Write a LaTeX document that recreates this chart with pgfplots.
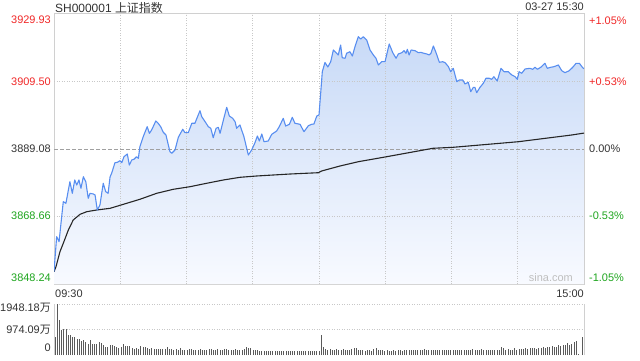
\documentclass[border=0pt]{standalone}
\usepackage{pgfplots}
\pgfplotsset{compat=1.18}
\usepackage{pgfplotstable}
\usepackage{fontspec}
\setmainfont{Liberation Sans}
\newfontfamily\cjk{Noto Sans CJK SC}
\definecolor{upred}{RGB}{240,40,40}
\definecolor{dngreen}{RGB}{30,165,30}
\definecolor{txt}{RGB}{51,51,51}
\definecolor{pline}{RGB}{88,142,240}
\definecolor{ftop}{RGB}{200,218,247}
\definecolor{fbot}{RGB}{248,250,255}
\definecolor{framec}{RGB}{208,208,208}
\definecolor{gridc}{RGB}{200,200,200}
\definecolor{zeroc}{RGB}{160,160,160}
\definecolor{volc}{RGB}{90,90,90}
\newcommand{\fs}{\fontsize{11}{13}\selectfont}

\pgfplotstableread{
t p
0 3851.96
1.2 3862.55
2.3 3861.04
3.0 3865.58
4.2 3873.14
5.4 3872.66
7.2 3879.19
8.3 3875.68
9.4 3879.71
10.3 3878.19
11.3 3879.71
12.2 3877.20
13.3 3880.70
14.4 3879.19
15.5 3874.17
16.3 3875.68
17.8 3875.47
18.6 3875.17
19.6 3870.63
20.8 3872.14
22.3 3878.71
23.4 3876.17
24.5 3875.68
25.4 3880.70
26.1 3881.73
27.6 3884.94
28.7 3885.06
29.9 3885.55
30.7 3884.94
31.7 3886.76
33.2 3887.57
34.1 3884.24
35.2 3885.76
36.2 3885.97
37.4 3886.76
38.2 3886.27
38.9 3889.78
40.4 3892.81
42.2 3895.83
43.2 3893.84
44.2 3894.83
46.1 3897.56
47.2 3896.86
48.3 3895.83
49.5 3894.14
50.7 3893.32
52.5 3888.27
53.3 3887.78
54.8 3888.78
56.3 3892.63
58.3 3895.05
59.3 3894.02
60.8 3894.02
62.4 3896.86
63.8 3896.86
66.1 3900.67
66.9 3898.86
68.4 3897.35
69.9 3895.83
71.0 3895.35
72.1 3892.50
73.4 3895.35
74.4 3895.65
75.2 3893.84
76.7 3897.86
78.2 3901.70
79.4 3899.07
80.9 3898.37
82.0 3897.35
82.7 3895.35
84.2 3896.35
86.0 3892.81
88.0 3887.27
89.5 3888.78
91.0 3890.99
92.1 3893.02
93.0 3891.51
94.1 3893.62
95.1 3891.29
97.0 3891.51
98.6 3893.53
100.8 3894.53
102.0 3895.83
103.8 3898.37
104.9 3896.04
106.6 3896.56
107.9 3898.68
109.1 3896.86
111.4 3896.56
113.2 3894.32
115.2 3896.14
116.7 3896.56
117.7 3896.65
119.0 3899.07
120.0 3899.37
121.5 3912.50
122.7 3915.26
124.0 3913.90
125.3 3915.50
126.5 3919.04
128.0 3918.04
128.7 3917.53
129.8 3920.55
130.5 3916.71
131.8 3916.53
132.5 3918.04
134.0 3918.52
135.1 3917.22
136.3 3920.04
137.8 3923.06
138.9 3922.37
140.1 3923.06
141.6 3922.06
143.1 3919.04
144.6 3917.53
145.8 3916.53
146.9 3914.50
148.4 3915.50
149.9 3915.50
151.8 3920.85
153.4 3918.22
154.9 3916.53
155.9 3917.83
157.5 3918.22
158.5 3918.83
159.4 3918.04
160.0 3919.25
160.8 3917.53
161.7 3919.04
163.5 3918.83
165.0 3918.22
166.1 3918.34
167.5 3918.04
168.8 3917.83
169.9 3917.53
170.7 3918.04
171.8 3920.25
173.0 3918.22
174.5 3915.32
176.0 3915.50
177.1 3915.20
178.6 3913.99
179.6 3912.47
180.8 3913.50
182.4 3909.45
183.5 3909.96
185.1 3909.96
186.1 3908.75
187.6 3909.27
188.7 3906.42
189.9 3907.75
190.6 3907.75
191.4 3906.12
192.9 3907.75
194.4 3908.96
195.6 3910.48
197.1 3910.48
198.2 3910.17
199.2 3910.96
200.7 3909.66
202.4 3913.50
203.8 3912.47
205.7 3912.47
207.3 3911.48
208.8 3910.96
209.8 3910.17
210.6 3912.47
211.8 3911.99
213.3 3913.29
215.5 3913.50
216.8 3913.20
217.8 3913.81
218.9 3913.20
220.4 3913.81
222.3 3915.01
223.4 3913.50
224.9 3913.81
226.4 3913.99
228.4 3914.50
229.9 3912.78
231.4 3912.17
233.3 3912.78
234.9 3913.81
236.4 3915.01
237.9 3915.01
239.4 3913.68
240 3913.40
}\price

\pgfplotstableread{
t a
0 3851.96
0.9 3853.47
2.7 3858.01
4.2 3860.55
6.5 3864.58
8.7 3867.60
11.8 3869.33
14.8 3870.11
19.3 3870.63
25.4 3871.14
31.4 3872.35
38.9 3873.87
46.5 3875.68
54.0 3876.89
61.6 3877.68
69.1 3878.71
76.7 3879.71
84.2 3880.52
91.8 3880.92
99.3 3881.22
106.9 3881.52
119.7 3881.91
121.2 3882.43
129.5 3883.94
137.8 3885.24
150.7 3886.76
171.6 3889.30
180.8 3889.60
210.3 3891.29
234.4 3893.32
240 3893.90
}\avg

\begin{document}
\begin{tikzpicture}[x=1bp,y=1bp]
\useasboundingbox (0,0) rectangle (640,360);

% main price panel
\begin{axis}[at={(54bp,76bp)}, anchor=south west, scale only axis,
  width=530bp, height=270bp,
  xmin=0, xmax=240, ymin=3848.24, ymax=3929.93,
  xtick=\empty, ytick=\empty,
  axis line style={framec, line width=1bp}]
\addplot[draw=none, top color=ftop, bottom color=fbot] table[x=t,y=p]{\price}
  -- (axis cs:240,3848.24) -- (axis cs:0,3848.24) -- cycle;
\pgfplotsinvokeforeach{30,60,90,120,150,180,210}{
  \draw[gridc, line width=0.8bp, dash pattern=on 1bp off 1.5bp] (axis cs:#1,3848.24) -- (axis cs:#1,3929.93);
}
\draw[gridc, line width=0.8bp, dash pattern=on 1bp off 1.5bp] (axis cs:0,3909.50) -- (axis cs:240,3909.50);
\draw[gridc, line width=0.8bp, dash pattern=on 1bp off 1.5bp] (axis cs:0,3868.66) -- (axis cs:240,3868.66);
\draw[zeroc, line width=0.8bp, dash pattern=on 4bp off 2bp] (axis cs:0,3889.08) -- (axis cs:240,3889.08);
\addplot[black!85, line width=1.1bp, mark=none] table[x=t,y=a]{\avg};
\addplot[pline, line width=1.1bp, line join=round, mark=none] table[x=t,y=p]{\price};
\end{axis}

% volume panel
\begin{axis}[at={(54bp,5bp)}, anchor=south west, scale only axis,
  width=530bp, height=51bp,
  xmin=-0.5, xmax=240.5, ymin=0, ymax=1948.18,
  xtick=\empty, ytick=\empty, clip=false,
  axis line style={draw=none}]
\draw[gridc, line width=0.8bp, dash pattern=on 1bp off 1.5bp] (axis cs:-0.5,1948.18) -- (axis cs:240.5,1948.18);
\draw[gridc, line width=0.8bp, dash pattern=on 1bp off 1.5bp] (axis cs:-0.5,974.09) -- (axis cs:240.5,974.09);
\draw[framec, line width=1bp] (rel axis cs:0,0) -- (rel axis cs:0,1);
\draw[framec, line width=1bp] (rel axis cs:1,0) -- (rel axis cs:1,1);
\addplot[ycomb, volc, line width=1bp, mark=none] coordinates {
(0,680)(1,1948)(2,1340)(3,950)(4,1000)(5,1000)(6,780)(7,780)(8,675)(9,675)
(10,620)(11,620)(12,520)(13,585)(14,480)(15,430)(16,560)(17,430)(18,430)(19,430)
(20,480)(21,455)(22,390)(23,300)(24,300)(25,390)(26,365)(27,325)(28,310)(29,260)
(30,300)(31,430)(32,350)(33,325)(34,325)(35,260)(36,235)(37,260)(38,220)(39,325)
(40,300)(41,300)(42,285)(43,220)(44,260)(45,230)(46,240)(47,230)(48,220)(49,235)
(50,240)(51,300)(52,230)(53,220)(54,210)(55,215)(56,195)(57,250)(58,200)(59,190)
(60,200)(61,230)(62,225)(63,205)(64,190)(65,200)(66,215)(67,210)(68,200)(69,190)
(70,215)(71,230)(72,200)(73,185)(74,215)(75,205)(76,195)(77,235)(78,215)(79,200)
(80,185)(81,210)(82,220)(83,200)(84,180)(85,195)(86,240)(87,290)(88,285)(89,250)
(90,200)(91,180)(92,180)(93,160)(94,170)(95,150)(96,160)(97,165)(98,150)(99,165)
(100,170)(101,150)(102,155)(103,165)(104,150)(105,160)(106,155)(107,170)(108,150)(109,160)
(110,150)(111,155)(112,165)(113,150)(114,170)(115,165)(116,150)(117,160)(118,165)(119,150)
(120,155)(121,750)(122,290)(123,215)(124,205)(125,215)(126,210)(127,200)(128,215)(129,185)
(130,200)(131,215)(132,195)(133,180)(134,200)(135,240)(136,255)(137,265)(138,200)(139,185)
(140,175)(141,165)(142,190)(143,180)(144,170)(145,215)(146,250)(147,200)(148,185)(149,175)
(150,170)(151,180)(152,165)(153,170)(154,180)(155,165)(156,175)(157,185)(158,170)(159,175)
(160,195)(161,200)(162,210)(163,185)(164,205)(165,200)(166,185)(167,210)(168,225)(169,205)
(170,190)(171,185)(172,200)(173,210)(174,185)(175,175)(176,200)(177,195)(178,175)(179,190)
(180,200)(181,180)(182,195)(183,205)(184,185)(185,175)(186,195)(187,210)(188,180)(189,200)
(190,215)(191,200)(192,175)(193,185)(194,215)(195,190)(196,180)(197,205)(198,180)(199,175)
(200,185)(201,190)(202,200)(203,310)(204,260)(205,200)(206,230)(207,205)(208,190)(209,250)
(210,200)(211,215)(212,240)(213,230)(214,250)(215,245)(216,280)(217,260)(218,265)(219,230)
(220,255)(221,280)(222,300)(223,285)(224,300)(225,290)(226,330)(227,295)(228,320)(229,400)
(230,360)(231,380)(232,400)(233,470)(234,390)(235,430)(236,500)(237,530)(238,20)(239,0)
(240,680)};
\end{axis}

% texts
\node[anchor=base west, inner sep=0, text=txt, font=\fontsize{12}{14}\selectfont] at (55,347.5) {SH000001 {\cjk 上证指数}};
\node[anchor=base east, inner sep=0, text=txt, font=\fs] at (584,349.5) {03-27 15:30};

\node[anchor=east, inner sep=0, text=upred, font=\fs] at (51,340) {3929.93};
\node[anchor=east, inner sep=0, text=upred, font=\fs] at (51,278) {3909.50};
\node[anchor=east, inner sep=0, text=txt, font=\fs] at (51,211) {3889.08};
\node[anchor=east, inner sep=0, text=dngreen, font=\fs] at (51,144) {3868.66};
\node[anchor=east, inner sep=0, text=dngreen, font=\fs] at (51,82) {3848.24};

\node[anchor=west, inner sep=0, text=upred, font=\fs] at (589,339.5) {+1.05\%};
\node[anchor=west, inner sep=0, text=upred, font=\fs] at (589,278) {+0.53\%};
\node[anchor=west, inner sep=0, text=txt, font=\fs] at (589,211) {0.00\%};
\node[anchor=west, inner sep=0, text=dngreen, font=\fs] at (589,144) {-0.53\%};
\node[anchor=west, inner sep=0, text=dngreen, font=\fs] at (589,82) {-1.05\%};

\node[anchor=east, inner sep=0, text=black!25, font=\fs] at (573,82) {sina.com};

\node[anchor=west, inner sep=0, text=txt, font=\fs] at (55,66.3) {09:30};
\node[anchor=east, inner sep=0, text=txt, font=\fs] at (584,66.3) {15:00};

\node[anchor=base east, inner sep=0, text=txt, font=\fs] at (51,49) {1948.18{\cjk 万}};
\node[anchor=base east, inner sep=0, text=txt, font=\fs] at (51,26.7) {974.09{\cjk 万}};
\node[anchor=base east, inner sep=0, text=txt, font=\fs] at (51,8.3) {0};
\end{tikzpicture}
\end{document}
